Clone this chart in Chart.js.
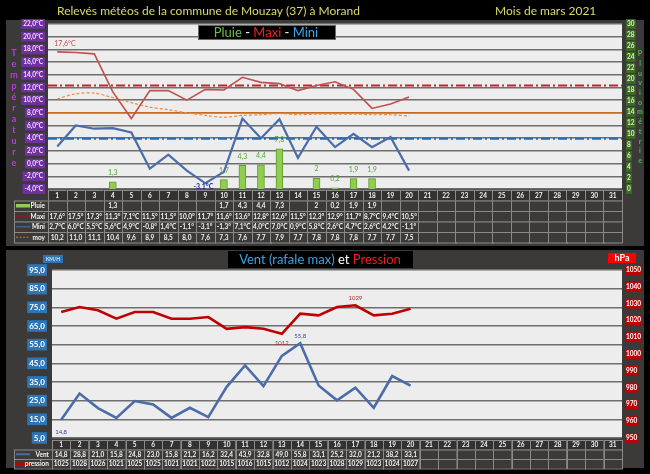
<!DOCTYPE html>
<html>
<head>
<meta charset="utf-8">
<script src="https://cdn.jsdelivr.net/npm/chart.js@4.4.1/dist/chart.umd.min.js"></script>
<style>
  html, body { margin: 0; padding: 0; background: #000; }
  canvas { position: absolute; left: 0; }
  #temp { top: 0; }
  #vent { top: 248px; }
</style>
</head>
<body>
<canvas id="temp" width="650" height="248"></canvas>
<canvas id="vent" width="650" height="226"></canvas>
<script>
const days = [];
for (let d = 1; d <= 31; d++) days.push(String(d));

// temperatures / pluie (mars 2021, jours 1 a 20)
const pluie = [null, null, null, 1.3, null, null, null, null, null, 1.7, 4.3, 4.4, 7.3, null, 2, 0.2, 1.9, 1.9, null, null];
const maxi = [17.6, 17.5, 17.3, 11.3, 7.1, 11.5, 11.5, 10.0, 11.7, 11.6, 13.6, 12.8, 12.6, 11.5, 12.3, 12.9, 11.7, 8.7, 9.4, 10.5];
const mini = [2.7, 6.0, 5.5, 5.6, 4.9, -0.8, 1.4, -1.1, -3.1, -1.3, 7.1, 4.0, 7.0, 0.9, 5.8, 2.6, 4.7, 2.6, 4.2, -1.1];
const moy = [10.2, 11.0, 11.1, 10.4, 9.6, 8.9, 8.5, 8.0, 7.6, 7.3, 7.6, 7.7, 7.9, 7.7, 7.8, 7.8, 7.8, 7.7, 7.7, 7.5];
// lignes de reference (normales)
const refMaxi = 12.3;
const refMoy = 8.0;
const refMini = 3.9;

// vent / pression
const vent = [14.8, 28.8, 21.0, 15.8, 24.8, 23.0, 15.8, 21.2, 16.2, 32.4, 43.9, 32.8, 49.0, 55.8, 33.1, 25.2, 32.0, 21.2, 38.2, 33.1];
const pression = [1025, 1028, 1026, 1021, 1025, 1025, 1021, 1021, 1022, 1015, 1016, 1015, 1012, 1024, 1023, 1028, 1029, 1023, 1024, 1027];

const FONT = "Lato";
const comma = (v) => String(v).replace(".", ",");
const fix1 = (v) => v.toFixed(1).replace(".", ",");
const deg = (v) => { const s = fix1(v); return s + (s.length > 3 ? "°" : "°C"); };

function panelBg(x0, y0, x1, y1) {
  return {
    id: "panelBg",
    beforeDraw(chart) {
      const ctx = chart.ctx, a = chart.chartArea;
      ctx.save();
      ctx.fillStyle = "#000";
      ctx.fillRect(0, 0, chart.width, chart.height);
      ctx.fillStyle = "#3b3a39";
      ctx.fillRect(x0, y0, x1 - x0, y1 - y0);
      ctx.fillStyle = "#ededed";
      ctx.fillRect(a.left, a.top, a.right - a.left, a.bottom - a.top);
      ctx.restore();
    }
  };
}

function drawTable(chart, top, rowH, legendX, rows) {
  const ctx = chart.ctx, a = chart.chartArea, xs = chart.scales.x;
  const w = (a.right - a.left) / days.length;
  ctx.save();
  ctx.lineWidth = 1;
  ctx.strokeStyle = "#8a8a8a";
  ctx.font = "bold 6.5px " + FONT;
  ctx.textAlign = "center";
  ctx.textBaseline = "middle";
  const nRows = rows.length + 1;
  for (let r = 0; r < nRows; r++) {
    const y = top + r * rowH;
    if (r > 0) {
      ctx.fillStyle = "#3b3a39";
      ctx.fillRect(legendX, y, a.left - legendX, rowH);
      ctx.strokeRect(legendX + 0.5, y + 0.5, a.left - legendX, rowH);
    }
    for (let i = 0; i < days.length; i++) {
      const x0 = xs.getPixelForValue(i) - w / 2;
      ctx.fillStyle = r === 0 ? "#333231" : "#3b3a39";
      ctx.fillRect(x0, y, w, rowH);
      ctx.strokeRect(Math.round(x0) + 0.5, y + 0.5, Math.round(w), rowH);
      let t = "";
      if (r === 0) t = days[i];
      else {
        const v = rows[r - 1].values[i];
        if (v !== null && v !== undefined) t = rows[r - 1].fmt(v);
      }
      if (t) {
        ctx.fillStyle = "#f2f2f2";
        ctx.fillText(t, xs.getPixelForValue(i), y + rowH / 2 + 0.5, w - 1);
      }
    }
    if (r > 0) {
      const row = rows[r - 1];
      const cy = y + rowH / 2;
      ctx.strokeStyle = row.color;
      ctx.lineWidth = row.lw;
      ctx.setLineDash(row.dash || []);
      ctx.beginPath();
      ctx.moveTo(legendX + 2, cy);
      ctx.lineTo(legendX + 16, cy);
      ctx.stroke();
      ctx.setLineDash([]);
      ctx.lineWidth = 1;
      ctx.strokeStyle = "#8a8a8a";
      ctx.fillStyle = "#f2f2f2";
      ctx.textAlign = "right";
      ctx.fillText(row.label, a.left - 3, cy + 0.5);
      ctx.textAlign = "center";
    }
  }
  ctx.restore();
}

function txt(ctx, s, x, y, color, font, align) {
  ctx.fillStyle = color;
  ctx.font = font;
  ctx.textAlign = align || "center";
  ctx.textBaseline = "middle";
  ctx.fillText(s, x, y);
}

function parts(ctx, list, cx, y, font) {
  ctx.font = font;
  let total = 0;
  list.forEach((p) => (total += ctx.measureText(p[0]).width));
  let x = cx - total / 2;
  ctx.textAlign = "left";
  ctx.textBaseline = "middle";
  list.forEach((p) => {
    ctx.fillStyle = p[1];
    ctx.fillText(p[0], x, y);
    x += ctx.measureText(p[0]).width;
  });
}

// ---------- graphique temperatures ----------
const tempDecor = {
  id: "tempDecor",
  beforeDatasetsDraw(chart) {
    const ctx = chart.ctx, a = chart.chartArea, y = chart.scales.y;
    ctx.save();
    const refLine = (v, color, lw, dash) => {
      const py = y.getPixelForValue(v);
      ctx.strokeStyle = color;
      ctx.lineWidth = lw;
      ctx.setLineDash(dash);
      ctx.beginPath();
      ctx.moveTo(a.left, py);
      ctx.lineTo(a.right, py);
      ctx.stroke();
    };
    refLine(refMoy, "#e46c0a", 1.2, []);
    refLine(refMaxi, "#c0262d", 2, [9, 3, 2, 3]);
    refLine(refMini, "#1f6fb8", 2, [9, 3, 2, 3]);
    ctx.restore();
  },
  afterDraw(chart) {
    const ctx = chart.ctx;
    ctx.save();
    txt(ctx, "Relevés météos de la commune de Mouzay (37) à Morand", 57, 11, "#dada6a", "12px " + FONT, "left");
    txt(ctx, "Mois de mars 2021", 495, 11, "#dada6a", "12px " + FONT, "left");

    // cartouche titre
    ctx.fillStyle = "#000";
    ctx.fillRect(198, 25, 137, 14);
    ctx.strokeStyle = "#666";
    ctx.strokeRect(198.5, 25.5, 137, 14);
    parts(ctx, [["Pluie", "#6cc04a"], [" - ", "#ffffff"], ["Maxi", "#e8231e"], [" - ", "#ffffff"], ["Mini", "#3aa7e8"]], 266, 33, "13px " + FONT);

    // lettres verticales
    "Température".split("").forEach((c, i) => txt(ctx, c, 14, 53 + i * 11, "#b43ee0", "bold 9px " + FONT));
    "Pluviométrie".split("").forEach((c, i) => txt(ctx, c, 640, 54 + i * 9.7, "#3fbf3f", "bold 7px " + FONT));

    // etiquettes de valeurs
    const mMax = chart.getDatasetMeta(1).data, mMin = chart.getDatasetMeta(2).data, mP = chart.getDatasetMeta(0).data;
    txt(ctx, fix1(maxi[0]) + "°C", mMax[0].x - 3, mMax[0].y - 8, "#c0504d", "7px " + FONT, "left");
    txt(ctx, fix1(mini[8]) + "°C", mMin[8].x - 2, mMin[8].y + 3.5, "#1f2a9a", "bold 7px " + FONT);
    pluie.forEach((v, i) => {
      if (v === null) return;
      txt(ctx, comma(v), mP[i].x, mP[i].y - 9, "#4fa832", "7px " + FONT);
    });

    drawTable(chart, 190, 10.5, 14, [
      { label: "Pluie", values: pluie, fmt: comma, color: "#8fd14f", lw: 3.5 },
      { label: "Maxi", values: maxi, fmt: deg, color: "#8b1a1a", lw: 1.5 },
      { label: "Mini", values: mini, fmt: deg, color: "#3f5f9f", lw: 1.5 },
      { label: "moy", values: moy, fmt: fix1, color: "#d0782a", lw: 1.2, dash: [2, 1.5] }
    ]);
    ctx.restore();
  }
};

new Chart(document.getElementById("temp").getContext("2d"), {
  data: {
    labels: days,
    datasets: [
      { type: "bar", label: "Pluie", data: pluie, yAxisID: "yR", backgroundColor: "#8fce4f", borderColor: "#5f9a2e", borderWidth: 1, barThickness: 7, order: 5 },
      { type: "line", label: "Maxi", data: maxi, yAxisID: "y", borderColor: "#c0504d", borderWidth: 1.6, pointRadius: 0, tension: 0, order: 1 },
      { type: "line", label: "Mini", data: mini, yAxisID: "y", borderColor: "#4a6ca8", borderWidth: 2.2, pointRadius: 0, tension: 0, order: 2 },
      { type: "line", label: "moy", data: moy, yAxisID: "y", borderColor: "#f08a3c", borderWidth: 1.2, borderDash: [3, 2], pointRadius: 0, tension: 0.3, order: 3 }
    ]
  },
  options: {
    responsive: false,
    animation: false,
    events: [],
    layout: { padding: { left: 8, right: 8, top: 24, bottom: 59 } },
    plugins: { legend: { display: false }, tooltip: { enabled: false } },
    scales: {
      x: {
        type: "category", offset: true,
        ticks: { display: false }, grid: { display: false }, border: { display: false },
        afterFit: (s) => { s.height = 0; }
      },
      y: {
        position: "left", min: -4, max: 22,
        afterFit: (s) => { s.width = 40; },
        border: { display: false },
        grid: { color: "#6e6e6e", lineWidth: 1.5, drawTicks: false },
        ticks: {
          stepSize: 2, padding: 5, color: "#f0dcff", autoSkip: false,
          font: { family: FONT, size: 6.5, weight: "bold" },
          showLabelBackdrop: true, backdropColor: "#7030a0", backdropPadding: { left: 2, right: 2, top: 1, bottom: 1 },
          callback: (v) => fix1(v) + "°C"
        }
      },
      yR: {
        position: "right", min: 0, max: 30,
        afterFit: (s) => { s.width = 20; },
        border: { display: false },
        grid: { display: false, drawTicks: false },
        ticks: {
          stepSize: 2, padding: 5, color: "#d8f5c0", autoSkip: false,
          font: { family: FONT, size: 6.5, weight: "bold" },
          showLabelBackdrop: true, backdropColor: "#3d6b26", backdropPadding: { left: 1, right: 1, top: 1, bottom: 1 },
          callback: (v) => String(v)
        }
      }
    }
  },
  plugins: [panelBg(6, 20, 644, 246), tempDecor]
});

// ---------- graphique vent / pression ----------
const ventDecor = {
  id: "ventDecor",
  afterDraw(chart) {
    const ctx = chart.ctx;
    ctx.save();
    ctx.fillStyle = "#000";
    ctx.fillRect(228, 3, 185, 17);
    parts(ctx, [["Vent (rafale max)", "#3ba3e6"], [" et ", "#ffffff"], ["Pression", "#e8211c"]], 320, 12, "13px " + FONT);

    ctx.fillStyle = "#2e75b6";
    ctx.fillRect(43, 7, 20, 8);
    txt(ctx, "KM/H", 53, 11.5, "#ffffff", "5px " + FONT);
    ctx.fillStyle = "#f00";
    ctx.fillRect(608, 5, 28, 10);
    txt(ctx, "hPa", 622, 10.5, "#ffffff", "bold 9px " + FONT);

    const mV = chart.getDatasetMeta(0).data, mP = chart.getDatasetMeta(1).data;
    txt(ctx, fix1(vent[0]), mV[0].x, mV[0].y + 12, "#3b3b9a", "6px " + FONT);
    txt(ctx, fix1(vent[13]), mV[13].x, mV[13].y - 7, "#3b3b9a", "6px " + FONT);
    txt(ctx, String(pression[12]), mP[12].x, mP[12].y + 9, "#c0262d", "6px " + FONT);
    txt(ctx, String(pression[16]), mP[16].x, mP[16].y - 7, "#c0262d", "6px " + FONT);

    drawTable(chart, 192, 9.5, 14, [
      { label: "Vent", values: vent, fmt: fix1, color: "#4a6ca8", lw: 2 },
      { label: "pression", values: pression, fmt: String, color: "#c00000", lw: 2.5 }
    ]);
    ctx.restore();
  }
};

new Chart(document.getElementById("vent").getContext("2d"), {
  data: {
    labels: days,
    datasets: [
      { type: "line", label: "Vent", data: vent, yAxisID: "y", borderColor: "#4a6ca8", borderWidth: 2.6, pointRadius: 0, tension: 0 },
      { type: "line", label: "Pression", data: pression, yAxisID: "yR", borderColor: "#c00000", borderWidth: 2.6, pointRadius: 0, tension: 0 }
    ]
  },
  options: {
    responsive: false,
    animation: false,
    events: [],
    layout: { padding: { left: 8, right: 8, top: 22, bottom: 36 } },
    plugins: { legend: { display: false }, tooltip: { enabled: false } },
    scales: {
      x: {
        type: "category", offset: true,
        ticks: { display: false }, grid: { display: false }, border: { display: false },
        afterFit: (s) => { s.height = 0; }
      },
      y: {
        position: "left", min: 5, max: 95,
        afterFit: (s) => { s.width = 44; },
        border: { display: false },
        grid: { color: "#6e6e6e", lineWidth: 1.5, drawTicks: false },
        ticks: {
          stepSize: 10, padding: 7, color: "#ffffff", autoSkip: false,
          font: { family: FONT, size: 8, weight: "bold" },
          showLabelBackdrop: true, backdropColor: "#2e75b6", backdropPadding: { left: 2, right: 2, top: 1, bottom: 1 },
          callback: (v) => fix1(v)
        }
      },
      yR: {
        position: "right", min: 950, max: 1050,
        afterFit: (s) => { s.width = 20; },
        border: { display: false },
        grid: { display: false, drawTicks: false },
        ticks: {
          stepSize: 10, padding: 4, color: "#ffffff", autoSkip: false,
          font: { family: FONT, size: 6.5, weight: "bold" },
          showLabelBackdrop: true, backdropColor: "#c00000", backdropPadding: { left: 1, right: 1, top: 1, bottom: 1 },
          callback: (v) => String(v)
        }
      }
    }
  },
  plugins: [panelBg(6, 2, 644, 220), ventDecor]
});
</script>
</body>
</html>
